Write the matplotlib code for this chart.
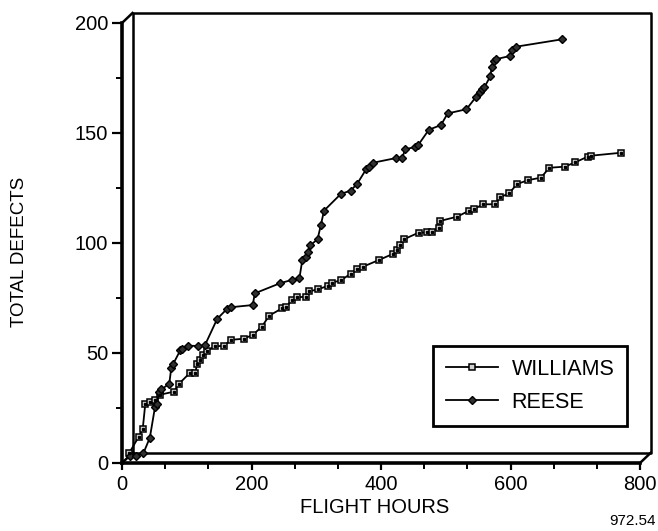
import matplotlib
matplotlib.use("Agg")
import matplotlib.pyplot as plt
from matplotlib.lines import Line2D
import matplotlib.transforms as mtransforms
from matplotlib.ticker import MultipleLocator

plt.rcParams['font.family'] = ['Liberation Sans', 'DejaVu Sans']

# ---- data ----
williams_hours = [11, 26, 32, 36, 44, 51, 58, 80, 88, 105, 113, 116, 120.5, 125, 132,
                  143, 157, 169, 188, 202, 216, 227.5, 247, 254, 262, 270, 284, 289,
                  303, 318, 324, 338, 353, 363, 372, 397, 418, 424, 429, 435.5, 458,
                  471.5, 478, 489, 491, 518, 536, 544, 558, 576, 584, 598, 610, 627.5,
                  647, 660, 684, 700, 719, 725, 770]
williams_defects = [4.5, 12, 15.5, 27, 27.8, 28.6, 31, 32.4, 36, 41, 41, 44.8, 46.8, 49, 51,
                    53, 53.3, 56, 56.5, 58.2, 62, 67, 70.3, 71, 74, 75.3, 75.6, 78,
                    79, 80.5, 82, 83, 86, 88.2, 89.2, 92.3, 95, 97, 99, 101.7, 104.7,
                    104.8, 105.1, 107, 110, 112, 114.7, 115.5, 117.6, 117.6, 120.8, 122.6,
                    126.8, 128.6, 129.7, 134.2, 134.7, 136.7, 139.2, 139.7, 141]

reese_hours = [12, 22, 33, 43, 51, 54, 57, 61, 73, 76, 79, 90, 92, 102.5, 118, 128, 147,
               162, 168, 202, 205, 244, 262, 274, 278.5, 284, 288, 291, 302, 307, 312,
               338, 353, 363, 377, 382, 388, 423, 433, 437, 452.5, 457.6, 474, 492.6,
               503, 532, 547, 553, 556.5, 559.6, 569, 571, 574.5, 577, 599, 603, 608, 680]
reese_defects = [3.2, 3.2, 4.4, 11.5, 25.5, 27, 32.4, 33.5, 36, 43, 45, 51.2, 52, 53.3,
                 53.2, 53.5, 65.5, 70, 70.8, 71.8, 77.1, 81.7, 83.2, 84, 92.3, 93.5, 96,
                 99, 101.7, 108, 114.7, 122.3, 123.8, 126.8, 133.5, 134.7, 136.5, 138.6,
                 138.6, 142.6, 143.6, 144.6, 151.5, 153.6, 158.9, 160.8, 166.5, 168.8,
                 169.8, 170.7, 175.9, 180.2, 182.7, 183.5, 185, 187.7, 189.2, 192.6]

x_ticks = [0, 200, 400, 600, 800]
y_ticks = [0, 50, 100, 150, 200]

W, H = 658, 531
fig = plt.figure(figsize=(W / 100, H / 100), dpi=100)
fig.patch.set_facecolor('white')
L, R, T, B = 122, 640, 23, 463
ax = fig.add_axes([L / W, 1 - B / H, (R - L) / W, (B - T) / H])
ax.set_xlim(0, 800)
ax.set_ylim(0, 200)
ax.set_facecolor('none')

for s in ['top', 'right']:
    ax.spines[s].set_visible(False)
for s in ['left', 'bottom']:
    ax.spines[s].set_linewidth(2.6)
    ax.spines[s].set_capstyle('projecting')

ax.set_xticks(x_ticks)
ax.set_yticks(y_ticks)
ax.xaxis.set_minor_locator(MultipleLocator(200 / 3))
ax.yaxis.set_minor_locator(MultipleLocator(25))
ax.tick_params(axis='both', which='major', direction='out', width=1.6, labelsize=14.5)
ax.tick_params(axis='y', which='major', length=7, pad=3)
ax.tick_params(axis='x', which='major', length=5, pad=4)
ax.tick_params(axis='both', which='minor', direction='out', width=1.4, length=4)

# 3-D looking back frame
off = mtransforms.ScaledTranslation(10.5 / 100, 10 / 100, fig.dpi_scale_trans)
tb = ax.transAxes + off
frame_kw = dict(color='black', lw=1.8, clip_on=False, solid_capstyle='projecting')
ax.add_line(Line2D([0, 1, 1, 0, 0], [0, 0, 1, 1, 0], transform=tb, **frame_kw))
for (fx, fy) in [(0, 1), (0, 0), (1, 0)]:
    p0 = ax.transAxes.transform((fx, fy))
    p1 = tb.transform((fx, fy))
    ax.add_line(Line2D([p0[0], p1[0]], [p0[1], p1[1]], transform=None,
                       color='black', lw=1.8, clip_on=False))

ax.plot(williams_hours, williams_defects, color='black', lw=1.3, marker='s',
        markersize=5, markerfacecolor='#d0d0d0', markeredgecolor='black',
        markeredgewidth=1.1, label='WILLIAMS', zorder=3, clip_on=False)
ax.plot(williams_hours, williams_defects, ls='none', marker='s', markersize=1.4,
        color='black', zorder=4, clip_on=False)
ax.plot(reese_hours, reese_defects, color='black', lw=1.3, marker='D',
        markersize=4, markerfacecolor='#303030', markeredgecolor='black',
        label='REESE', zorder=3, clip_on=False)

leg = ax.legend(loc='upper left', bbox_to_anchor=((433 - L) / (R - L), (B - 346) / (B - T)),
                fontsize=15.5, frameon=True, fancybox=False, framealpha=1,
                edgecolor='black', handlelength=2.4, handletextpad=0.65,
                borderpad=0.6, labelspacing=0.55, borderaxespad=0)
leg.get_frame().set_linewidth(2)

ax.set_xlabel('FLIGHT HOURS', fontsize=14.5)
ax.xaxis.set_label_coords((375 - L) / (R - L), (B - 498) / (B - T))
ax.set_ylabel('TOTAL DEFECTS', fontsize=13.5)
ax.yaxis.set_label_coords((28 - L) / (R - L), (B - 252) / (B - T))

fig.text(633 / W, 1 - 521 / H, '972.54', ha='center', va='center', fontsize=11)

fig.savefig('out.png', dpi=100)
